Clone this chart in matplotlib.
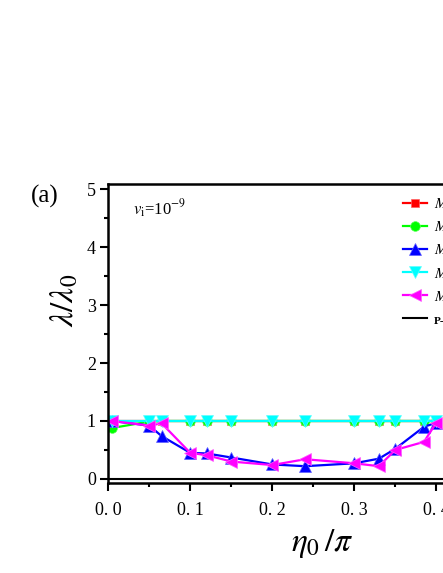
import matplotlib
matplotlib.use("Agg")
import matplotlib.pyplot as plt
from matplotlib.ticker import MultipleLocator, FuncFormatter

plt.rcParams['font.family'] = ['Liberation Serif', 'DejaVu Serif']
plt.rcParams['mathtext.fontset'] = 'stix'

# eta0/pi sample points
eta = [0.005, 0.05, 0.065, 0.1, 0.12, 0.15, 0.2, 0.24, 0.3, 0.33, 0.35, 0.385, 0.4]

red_vals = [1.0, 1.0, 1.0, 1.0, 1.0, 1.0, 1.0, 1.0, 1.0, 1.0, 1.0, 1.0, 1.0]
green_vals = [0.88, 0.99, 1.0, 1.0, 1.0, 1.0, 1.0, 1.0, 1.0, 1.0, 1.0, 1.0, 1.0]
blue_vals = [1.0, 0.92, 0.74, 0.45, 0.44, 0.37, 0.25, 0.22, 0.27, 0.35, 0.52, 0.90, 0.97]
cyan_vals = [1.0, 1.0, 1.0, 1.0, 1.0, 1.0, 1.0, 1.0, 1.0, 1.0, 1.0, 1.0, 1.0]
magenta_vals = [1.0, 0.92, 0.96, 0.45, 0.41, 0.30, 0.24, 0.34, 0.27, 0.22, 0.50, 0.64, 0.97]

pl_x = [0.0, 0.5]
pl_y = [0.0, 0.0]

labels = ['$M$=1', '$M$=2', '$M$=3', '$M$=4', '$M$=5', 'P-L']


def main():
    W, H = 443, 573
    fig = plt.figure(figsize=(W / 100, H / 100), dpi=100)
    left = 108.3 / W
    bottom = 1 - 483 / H
    ax = fig.add_axes([left, bottom, 410 / W, (483 - 184) / H])

    lw = 1.6
    ms = 7
    ax.plot(eta, red_vals, color='#ff0000', marker='s', lw=lw, ms=ms - 1, mew=0.5, mec='#ff6060', label=labels[0])
    ax.plot(eta, green_vals, color='#00ff00', marker='o', lw=lw, ms=ms, mew=0.5, mec='#60ff60', label=labels[1])
    ax.plot(eta, blue_vals, color='#0000ff', marker='^', lw=lw, ms=ms + 1, mew=0.5, mec='#6060ff', label=labels[2])
    ax.plot(eta, cyan_vals, color='#00ffff', marker='v', lw=lw, ms=ms + 1, mew=0.5, mec='#60ffff', label=labels[3])
    ax.plot(eta, magenta_vals, color='#ff00ff', marker='<', lw=lw, ms=ms + 1, mew=0.5, mec='#ff60ff', label=labels[4])
    ax.plot(pl_x, pl_y, color='black', lw=1.5, label=labels[5])

    ax.set_xlim(0, 0.5)
    ax.set_ylim(-0.07, 5.09)

    ax.xaxis.set_major_locator(MultipleLocator(0.1))
    ax.xaxis.set_minor_locator(MultipleLocator(0.05))
    ax.yaxis.set_major_locator(MultipleLocator(1))
    ax.yaxis.set_minor_locator(MultipleLocator(0.5))
    ax.xaxis.set_major_formatter(FuncFormatter(lambda v, p: ('%.1f' % v).replace('.', '. ')))
    ax.tick_params(which='major', direction='out', length=6, width=1.5, labelsize=13)
    ax.tick_params(which='minor', direction='out', length=3, width=1.5)
    ax.tick_params(axis='x', pad=8)
    ax.tick_params(axis='y', pad=3)

    for s in ax.spines.values():
        s.set_linewidth(1.8)

    ax.set_xlabel(r'$\eta_{\mathit{0}}\,/\pi$', fontsize=24)
    ax.xaxis.set_label_coords((322 - 108.3) / 410, -(543 - 483) / 299, transform=ax.transAxes)
    ax.xaxis.label.set_va('center')
    ax.set_ylabel(r'$\lambda/\lambda_0$', fontsize=24)
    ax.yaxis.set_label_coords(-(108.3 - 65) / 410, (483 - 300) / 299, transform=ax.transAxes)
    ax.yaxis.label.set_va('center')

    fig.text(133 / W, 1 - 215 / H, r'$v_{\mathrm{i}}$=10$^{-9}$', fontsize=12,
             va='baseline', ha='left')
    fig.text(45 / W, 1 - 196 / H, '(a)', fontsize=18, ha='center', va='center')

    leg = ax.legend(loc='upper left', bbox_to_anchor=(403 / W, 1 - 197 / H),
                    bbox_transform=fig.transFigure, frameon=False, fontsize=11,
                    borderpad=0, borderaxespad=0, handlelength=1.6, handletextpad=0.4,
                    labelspacing=0.6)
    for t in leg.get_texts():
        if t.get_text() == 'P-L':
            t.set_fontweight('bold')
            t.set_fontsize(8)

    fig.savefig('out.png', dpi=100)


if __name__ == "__main__":
    main()
